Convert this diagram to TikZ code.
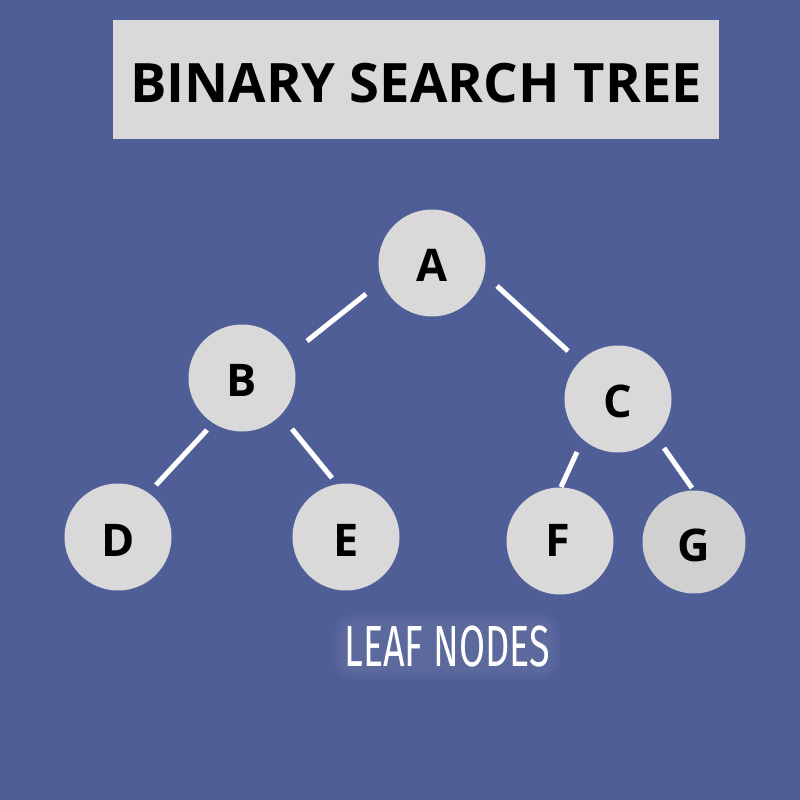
\documentclass[tikz,border=0pt]{standalone}
\usepackage{fontspec}
\setmainfont{Open Sans}
\newfontfamily\leaffont{Fira Sans}
\usetikzlibrary{calc}
\definecolor{bg}{HTML}{505E98}
\definecolor{boxgray}{HTML}{D9D9D9}
\definecolor{ggray}{HTML}{D0D0D0}
\tikzset{
  treenode/.style={circle, fill=boxgray, minimum size=107pt, inner sep=0pt},
  letter/.style={font=\fontsize{45}{45}\selectfont\bfseries},
  edge/.style={white, line width=5pt},
  halo/.style={white, opacity=0.02, rounded corners=#1},
}
\begin{document}
\begin{tikzpicture}[x=1pt,y=-1pt]
\fill[bg] (0,0) rectangle (800,800);
\useasboundingbox (0,0) rectangle (800,800);
\node[fill=boxgray, minimum width=606pt, minimum height=119pt, inner sep=0pt, anchor=north west] (titlebox) at (113,20) {};
\node[font=\fontsize{54.3}{54.3}\selectfont\bfseries] (title) at (416,83) {BINARY SEARCH TREE};
\node[treenode] (A) at (432,263) {};
\node[treenode] (B) at (242,378) {};
\node[treenode] (C) at (618,399) {};
\node[treenode] (D) at (118,537) {};
\node[treenode] (E) at (346,537) {};
\node[treenode] (F) at (560,541) {};
\node[treenode, fill=ggray, minimum size=103pt] (G) at (694,542) {};
\node[letter] (lA) at (432,265) {A};
\node[letter] (lB) at (242,380) {B};
\node[letter] (lC) at (618,401) {C};
\node[letter] (lD) at (118,540) {D};
\node[letter] (lE) at (346,540) {E};
\node[letter] (lF) at (558,540) {F};
\node[letter] (lG) at (694,545) {G};
\draw[edge] ($(A)+(-66,31)$) -- ($(B)+(65,-37)$);
\draw[edge] ($(A)+(65,23)$) -- ($(C)+(-50,-48)$);
\draw[edge] ($(B)+(-35,52)$) -- ($(D)+(38,-52)$);
\draw[edge] ($(B)+(50,51)$) -- ($(E)+(-14,-59)$);
\draw[edge] ($(C)+(-41,53)$) -- ($(F)+(1,-54)$);
\draw[edge] ($(C)+(46,49)$) -- ($(G)+(-2,-54)$);
\foreach \r in {3,6,9,12}{
  \fill[halo=\r pt+6pt] ($(447,647)+(-101-\r,-21-\r)$) rectangle ($(447,647)+(101+\r,21+\r)$);
}
\node[white, font=\leaffont\fontsize{58}{58}\selectfont] (leaf) at (447,647) {\scalebox{0.65}[1]{LEAF NODES}};
\end{tikzpicture}
\end{document}
